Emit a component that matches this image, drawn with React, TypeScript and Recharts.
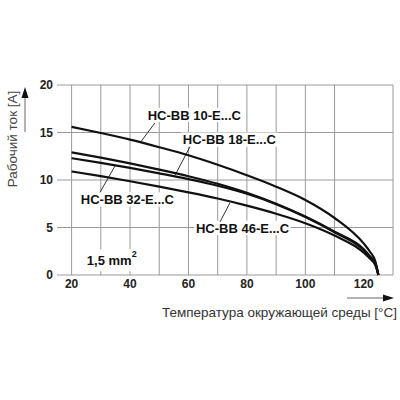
import React from 'react';
import {
  LineChart,
  Line,
  XAxis,
  YAxis,
  CartesianGrid,
  ReferenceArea,
  ReferenceLine,
} from 'recharts';

// Temperature points (°C) and operating current (A) per connector type
const TEMPS = [20, 30, 40, 50, 60, 70, 80, 90, 100, 110, 120, 122, 124, 125];
const HCBB10 = [15.6, 14.95, 14.25, 13.45, 12.6, 11.6, 10.5, 9.3, 7.9, 6.0, 3.3, 2.5, 1.4, 0];
const HCBB18 = [12.9, 12.35, 11.75, 11.1, 10.4, 9.6, 8.65, 7.5, 6.15, 4.55, 2.7, 2.0, 1.2, 0];
const HCBB32 = [12.3, 11.8, 11.27, 10.7, 10.1, 9.4, 8.55, 7.45, 6.1, 4.5, 2.6, 1.95, 1.15, 0];
const HCBB46 = [10.9, 10.4, 9.87, 9.3, 8.7, 8.05, 7.3, 6.45, 5.45, 4.15, 2.35, 1.75, 1.0, 0];

const X_TICKS = [20, 40, 60, 80, 100, 120];
const Y_TICKS = [0, 5, 10, 15, 20];
const GRID_X = [15, 20, 30, 40, 50, 60, 70, 80, 90, 100, 110, 120, 130];

const data = TEMPS.map((t, i) => ({
  t,
  a: HCBB10[i],
  b: HCBB18[i],
  c: HCBB32[i],
  d: HCBB46[i],
}));

// label boxes: [x1, x2, y1, y2] in data units, leader: [x1, y1, x2, y2]
const LABELS: { text: string; box: number[]; lead: number[] }[] = [
  { text: 'HC-BB 10-E...C', box: [45.5, 78.5, 16.1, 17.6], lead: [48.5, 16.0, 43.4, 13.9] },
  { text: 'HC-BB 18-E...C', box: [57.5, 90.5, 13.5, 15.0], lead: [60.5, 13.5, 55.4, 10.5] },
  { text: 'HC-BB 32-E...C', box: [22.6, 55.6, 7.2, 8.7], lead: [29.7, 8.7, 34.9, 11.5] },
  { text: 'HC-BB 46-E...C', box: [62.0, 95.0, 4.2, 5.7], lead: [70.8, 5.6, 74.2, 7.6] },
];

const FONT = '"Liberation Sans", Arial, sans-serif';

const SectionLabel = (props: any) => {
  const { viewBox } = props;
  const cx = viewBox.x + viewBox.width / 2;
  const cy = viewBox.y + viewBox.height / 2;
  return (
    <text x={cx} y={cy} dy="0.36em" textAnchor="middle" fontFamily={FONT} fontSize={13} fontWeight="bold" fill="#111">
      1,5 mm
      <tspan fontSize={9} dy="-0.9em">2</tspan>
    </text>
  );
};

const App: React.FC = () => {
  return (
    <div style={{ position: 'absolute', left: 0, top: 0, width: 400, height: 400, background: '#fff' }}>
      <LineChart width={400} height={400} data={data} margin={{ top: 85, right: 7, left: 17, bottom: 95 }}>
        <CartesianGrid
          stroke="#9a9a9a"
          strokeWidth={1}
          horizontalValues={Y_TICKS}
          verticalValues={GRID_X}
        />
        <XAxis
          dataKey="t"
          type="number"
          domain={[15, 130]}
          ticks={X_TICKS}
          height={30}
          axisLine={false}
          tickLine={false}
          tickSize={0}
          tickMargin={4}
          tick={{ fontSize: 12, fontWeight: 'bold', fill: '#222', fontFamily: FONT }}
        />
        <YAxis
          type="number"
          domain={[0, 20]}
          ticks={Y_TICKS}
          width={40}
          axisLine={false}
          tickLine={false}
          tickSize={0}
          tickMargin={4}
          tick={{ fontSize: 12, fontWeight: 'bold', fill: '#222', fontFamily: FONT }}
        />
        {LABELS.map((l) => (
          <ReferenceArea
            key={l.text}
            x1={l.box[0]}
            x2={l.box[1]}
            y1={l.box[2]}
            y2={l.box[3]}
            fill="#fff"
            fillOpacity={1}
            stroke="none"
            label={{ value: l.text, position: 'center', fontSize: 13, fontWeight: 'bold', fill: '#111', fontFamily: FONT }}
          />
        ))}
        <ReferenceArea x1={24.5} x2={43} y1={0.4} y2={2.7} fill="#fff" fillOpacity={1} stroke="none" label={<SectionLabel />} />
        {LABELS.map((l) => (
          <ReferenceLine
            key={l.text + '-lead'}
            segment={[{ x: l.lead[0], y: l.lead[1] }, { x: l.lead[2], y: l.lead[3] }]}
            stroke="#333"
            strokeWidth={1}
          />
        ))}
        <Line type="monotone" dataKey="a" stroke="#111" strokeWidth={2.2} dot={false} isAnimationActive={false} />
        <Line type="monotone" dataKey="b" stroke="#111" strokeWidth={2.2} dot={false} isAnimationActive={false} />
        <Line type="monotone" dataKey="c" stroke="#111" strokeWidth={2.2} dot={false} isAnimationActive={false} />
        <Line type="monotone" dataKey="d" stroke="#111" strokeWidth={2.2} dot={false} isAnimationActive={false} />
      </LineChart>
      <svg width={400} height={400} style={{ position: 'absolute', left: 0, top: 0, pointerEvents: 'none' }}>
        <text
          transform="translate(17,139) rotate(-90)"
          textAnchor="middle"
          fontFamily={FONT}
          fontSize={13.5}
          fill="#444"
        >
          Рабочий ток [A]
        </text>
        <line x1={25} y1={132} x2={25} y2={96} stroke="#999" strokeWidth={1.5} />
        <polygon points="25,87 21.5,98 28.5,98" fill="#111" />
        <text x={397} y={317} textAnchor="end" fontFamily={FONT} fontSize={13.5} fill="#333">
          Температура окружающей среды [°C]
        </text>
        <line x1={347} y1={298} x2={384} y2={298} stroke="#999" strokeWidth={1.5} />
        <polygon points="394,298 383,294.5 383,301.5" fill="#111" />
      </svg>
    </div>
  );
};

export default App;
